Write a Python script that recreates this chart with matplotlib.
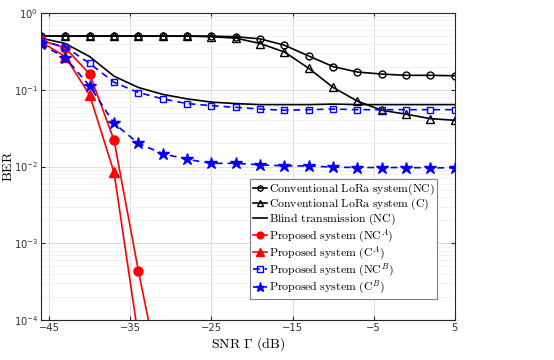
import numpy as np
import matplotlib
matplotlib.use("Agg")
import matplotlib.pyplot as plt
from matplotlib.ticker import FixedLocator, LogLocator, NullFormatter
from matplotlib.font_manager import FontProperties

snr = [-46, -43, -40, -37, -34, -31, -28, -25, -22, -19, -16, -13, -10, -7, -4, -1, 2, 5]

conv_nc = [0.5, 0.5, 0.5, 0.5, 0.5, 0.5, 0.5, 0.5, 0.49, 0.46, 0.38, 0.275, 0.2, 0.17, 0.16, 0.154, 0.154, 0.152]
conv_c = [0.5, 0.5, 0.5, 0.5, 0.5, 0.5, 0.5, 0.49, 0.47, 0.40, 0.31, 0.19, 0.107, 0.071, 0.054, 0.048, 0.042, 0.040]
blind_nc = [0.47, 0.40, 0.27, 0.15, 0.107, 0.087, 0.076, 0.069, 0.066, 0.064, 0.064, 0.064, 0.065, 0.064, 0.064, 0.064, 0.064, 0.064]
prop_nc_a = [0.44, 0.35, 0.16, 0.022, 0.00044, 1.2e-5]
prop_c_a = [0.42, 0.27, 0.085, 0.0084, 6e-5]
prop_nc_b = [0.435, 0.36, 0.22, 0.125, 0.092, 0.076, 0.066, 0.062, 0.059, 0.056, 0.054, 0.055, 0.056, 0.055, 0.055, 0.055, 0.055, 0.055]
prop_c_b = [0.39, 0.26, 0.112, 0.0365, 0.020, 0.0147, 0.0124, 0.011, 0.011, 0.0105, 0.0102, 0.0102, 0.0098, 0.0097, 0.0097, 0.0097, 0.0096, 0.0096]

labels = [
    r'$\mathrm{Conventional\ LoRa\ system(NC)}$',
    r'$\mathrm{Conventional\ LoRa\ system\ (C)}$',
    r'$\mathrm{Blind\ transmission\ (NC)}$',
    r'$\mathrm{Proposed\ system\ (NC}^{A}\mathrm{)}$',
    r'$\mathrm{Proposed\ system\ (C}^{A}\mathrm{)}$',
    r'$\mathrm{Proposed\ system\ (NC}^{B}\mathrm{)}$',
    r'$\mathrm{Proposed\ system\ (C}^{B}\mathrm{)}$',
]
xticks = [-45, -35, -25, -15, -5, 5]

fig = plt.figure(figsize=(5.54, 3.6), dpi=100)
ax = fig.add_axes([0.074, 0.111, 0.747, 0.853])

lw = 1.2
ax.plot(snr, conv_nc, color='black', lw=lw, marker='o', ms=5, mfc='none', mew=1.0, label=labels[0])
ax.plot(snr, conv_c, color='black', lw=lw, marker='^', ms=6, mfc='none', mew=1.0, label=labels[1])
ax.plot(snr, blind_nc, color='black', lw=lw, label=labels[2])
ax.plot(snr[:len(prop_nc_a)], prop_nc_a, color='red', lw=lw, marker='o', ms=6.5, label=labels[3])
ax.plot(snr[:len(prop_c_a)], prop_c_a, color='red', lw=lw, marker='^', ms=7, label=labels[4])
ax.plot(snr, prop_nc_b, color='blue', lw=lw, ls=(0, (4, 3)), marker='s', ms=5, mfc='none', mew=1.0, label=labels[5])
ax.plot(snr, prop_c_b, color='blue', lw=lw, ls=(0, (4, 3)), marker='*', ms=9, label=labels[6])

ax.set_yscale('log')
ax.set_ylim(1e-4, 1)
ax.set_xlim(-46, 5)
ax.xaxis.set_major_locator(FixedLocator(xticks))
ax.yaxis.set_major_locator(LogLocator(base=10, numticks=10))
ax.yaxis.set_minor_locator(LogLocator(base=10, subs=np.arange(2, 10), numticks=20))
ax.yaxis.set_minor_formatter(NullFormatter())

ax.grid(True, which='major', color='#dcdcdc', lw=0.7)
ax.grid(True, which='minor', color='#efefef', lw=0.5)
ax.set_axisbelow(True)
for s in ax.spines.values():
    s.set_color('#262626')
    s.set_linewidth(0.8)
ax.tick_params(which='both', direction='in', colors='#262626', labelcolor='#333333', labelsize=7.2)
ax.tick_params(which='minor', length=0)
ax.tick_params(which='major', length=3, top=True, right=True, pad=2)

cm = FontProperties(size=10, math_fontfamily='cm')
ax.set_ylabel(r'$\mathrm{BER}$', fontproperties=cm, va='center')
ax.yaxis.set_label_coords(-0.080, 0.5)
ax.set_xlabel(r'$\mathrm{SNR}\ \Gamma\ \mathrm{(dB)}$', fontproperties=cm, labelpad=2)

leg = ax.legend(loc='lower right', bbox_to_anchor=(0.957, 0.070),
                prop=FontProperties(size=8.5, math_fontfamily='cm'),
                fancybox=False, edgecolor='#808080', framealpha=1,
                handlelength=1.2, handletextpad=0.15, borderpad=0.2,
                labelspacing=0.0, borderaxespad=0, markerscale=0.75)
leg.get_frame().set_linewidth(0.8)

fig.savefig('out.png', dpi=100)
